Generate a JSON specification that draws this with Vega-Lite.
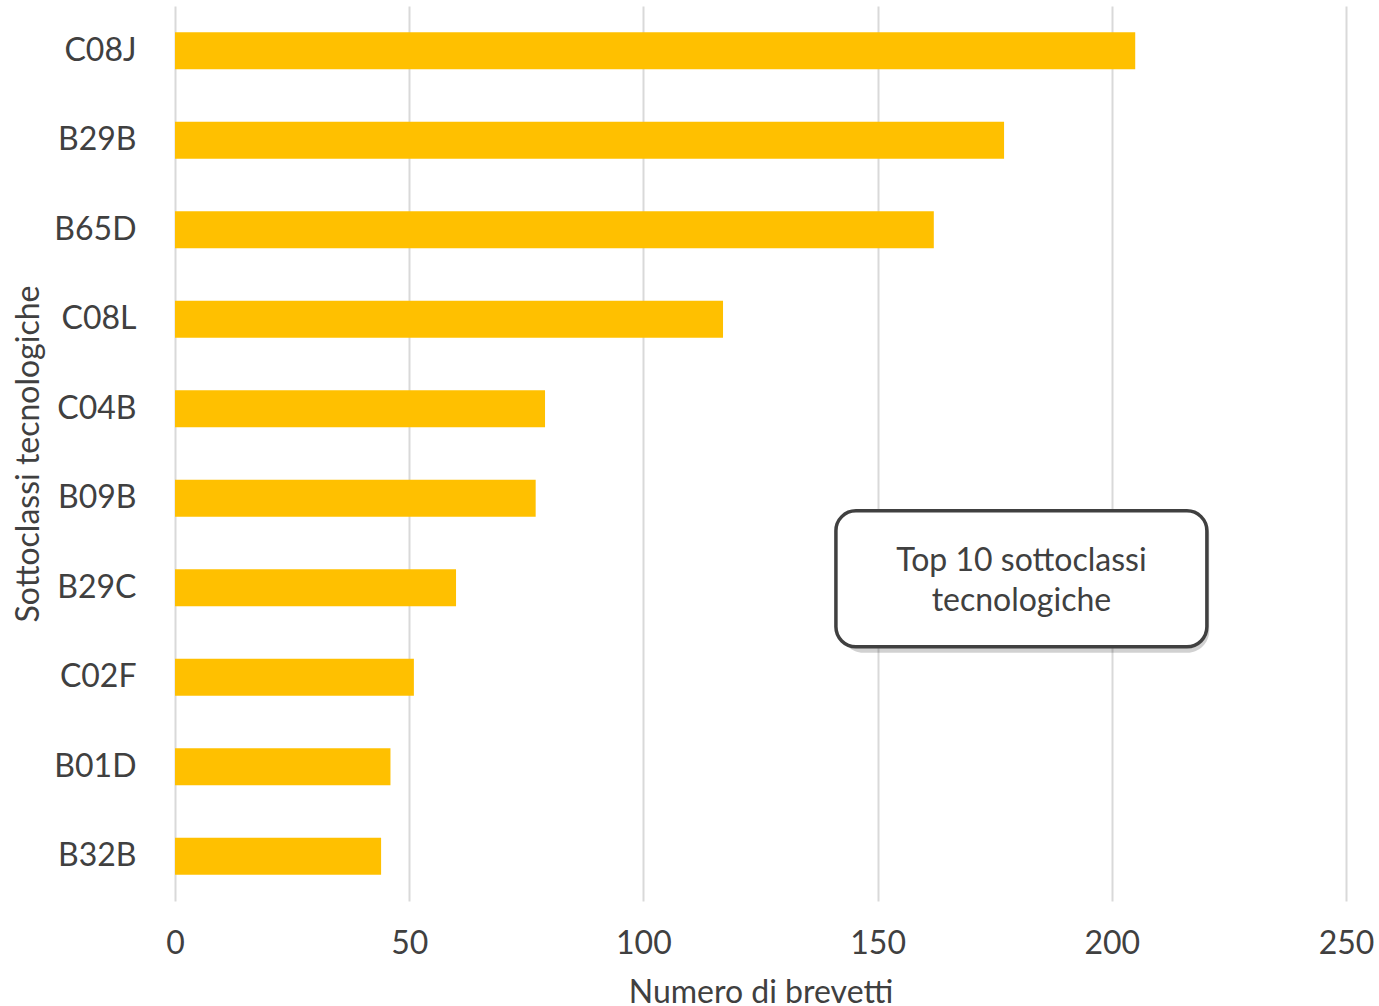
{
  "$schema": "https://vega.github.io/schema/vega-lite/v6.json",
  "autosize": {"type": "none"},
  "width": 1171,
  "height": 895,
  "padding": {"left": 175, "top": 6, "right": 33, "bottom": 105},
  "background": "white",
  "config": {
    "view": {"stroke": null},
    "font": "Lato",
    "axis": {"labelFont": "Lato", "titleFont": "Lato", "labelColor": "#404040", "titleColor": "#404040", "titleFontWeight": "normal"}
  },
  "layer": [
    {
      "data": {"values": [
        {"sottoclasse": "C08J", "brevetti": 205},
        {"sottoclasse": "B29B", "brevetti": 177},
        {"sottoclasse": "B65D", "brevetti": 162},
        {"sottoclasse": "C08L", "brevetti": 117},
        {"sottoclasse": "C04B", "brevetti": 79},
        {"sottoclasse": "B09B", "brevetti": 77},
        {"sottoclasse": "B29C", "brevetti": 60},
        {"sottoclasse": "C02F", "brevetti": 51},
        {"sottoclasse": "B01D", "brevetti": 46},
        {"sottoclasse": "B32B", "brevetti": 44}
      ]},
      "mark": {"type": "bar", "color": "#FFC000"},
      "encoding": {
        "y": {
          "field": "sottoclasse", "type": "nominal",
          "scale": {"domain": ["C08J","B29B","B65D","C08L","C04B","B09B","B29C","C02F","B01D","B32B"], "paddingInner": 0.587, "paddingOuter": 0.293},
          "axis": {"title": "Sottoclassi tecnologiche", "titleFontSize": 32, "titlePadding": 8, "labelFontSize": 32, "labelPadding": 39, "ticks": false, "domain": false, "grid": false}
        },
        "x": {
          "field": "brevetti", "type": "quantitative",
          "scale": {"domain": [0, 250], "nice": false},
          "axis": {"title": "Numero di brevetti", "titleFontSize": 32, "titlePadding": 18, "labelFontSize": 32, "labelPadding": 27, "labelFlush": false, "values": [0, 50, 100, 150, 200, 250], "ticks": false, "domain": false, "grid": true, "gridColor": "#d9d9d9", "gridWidth": 2}
        }
      }
    },
    {
      "data": {"values": [{"x1": 141.6, "x2": 220.8, "cat": "B29C"}]},
      "mark": {"type": "rect", "fill": "#000000", "opacity": 0.18, "height": 140, "yOffset": -5, "xOffset": 3, "cornerRadius": 22},
      "encoding": {
        "x": {"field": "x1", "type": "quantitative"},
        "x2": {"field": "x2"},
        "y": {"field": "cat", "type": "nominal"}
      }
    },
    {
      "data": {"values": [{"x1": 141.1, "x2": 220.3, "cat": "B29C"}]},
      "mark": {"type": "rect", "fill": "white", "stroke": "#404040", "strokeWidth": 3.5, "height": 136, "yOffset": -9, "cornerRadius": 20},
      "encoding": {
        "x": {"field": "x1", "type": "quantitative"},
        "x2": {"field": "x2"},
        "y": {"field": "cat", "type": "nominal"}
      }
    },
    {
      "data": {"values": [{"x": 180.7, "cat": "B29C", "label": "Top 10 sottoclassi\ntecnologiche"}]},
      "mark": {"type": "text", "lineBreak": "\n", "fontSize": 32, "lineHeight": 40, "color": "#404040", "align": "center", "baseline": "middle", "yOffset": -27, "font": "Lato"},
      "encoding": {
        "x": {"field": "x", "type": "quantitative"},
        "y": {"field": "cat", "type": "nominal"},
        "text": {"field": "label"}
      }
    }
  ]
}
